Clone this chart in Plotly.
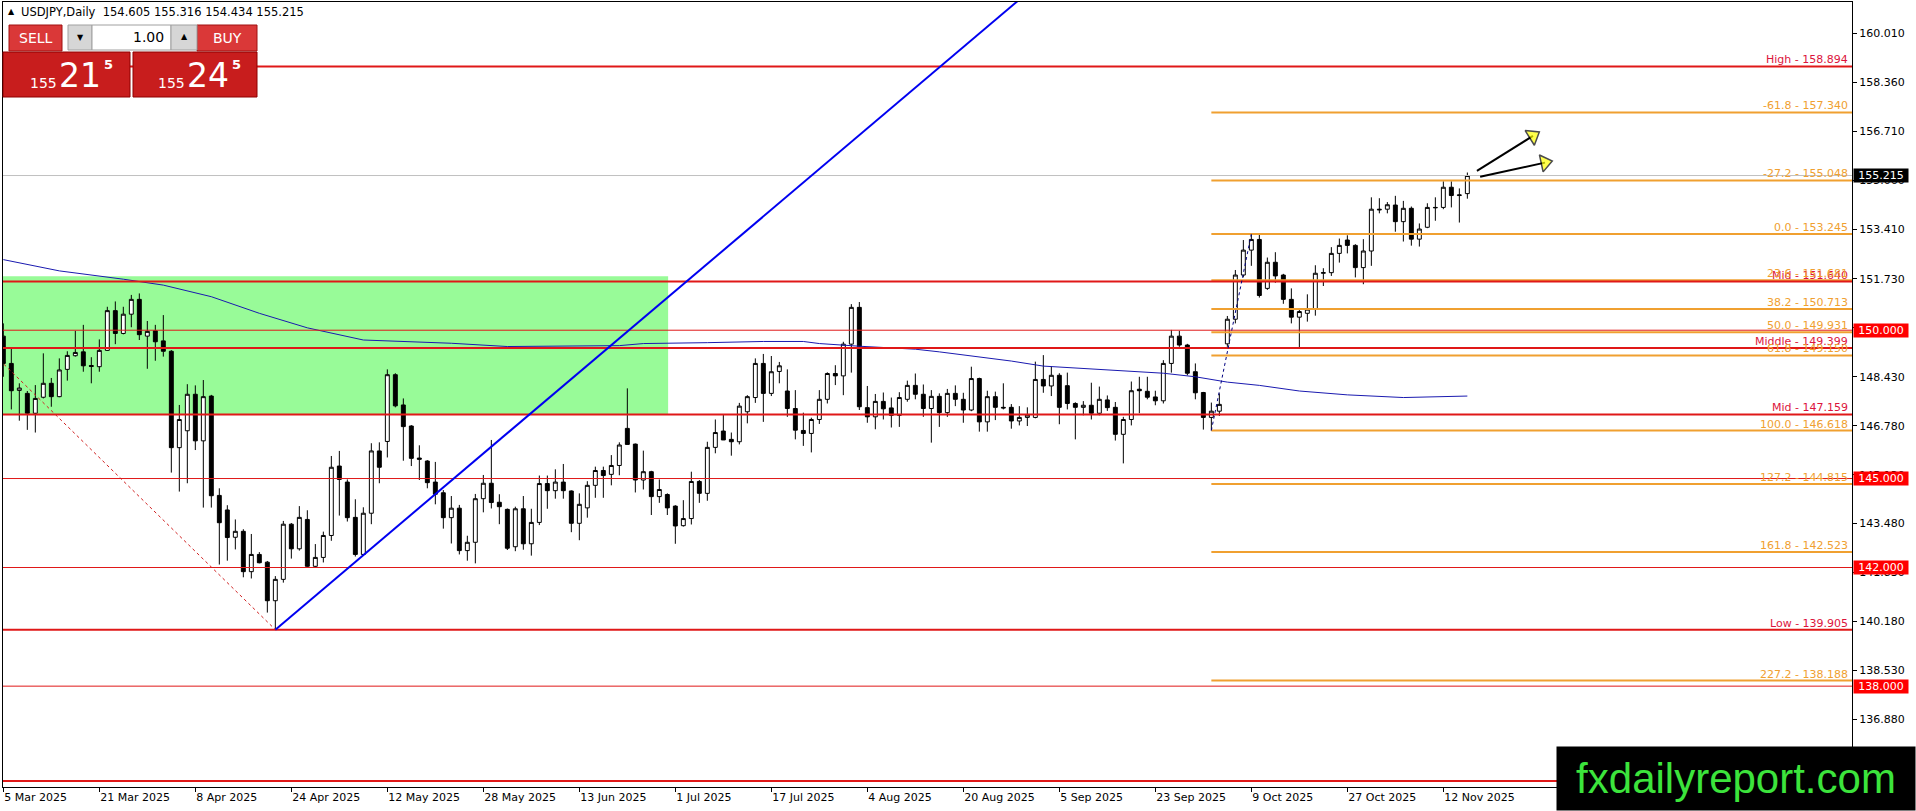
import plotly.graph_objects as go
import pandas as pd

# ---------------- data ----------------
dates = pd.bdate_range("2025-03-05", "2025-11-17")

opens = [
    149.80, 148.88, 147.97, 147.87, 147.20, 147.74, 148.21, 147.76, 148.68, 149.14,
    149.27, 148.81, 148.77, 149.32, 150.66, 149.89, 150.54, 151.04, 149.80, 149.98,
    149.64, 149.29, 146.04, 146.61, 147.84, 146.27, 147.78, 144.43, 143.94, 143.02,
    143.22, 141.86, 142.44, 142.18, 140.88, 141.60, 143.46, 142.63, 143.62, 142.04,
    142.34, 143.08, 145.42, 144.88, 143.69, 142.44, 143.83, 145.93, 146.25, 148.50,
    147.48, 146.77, 145.69, 145.59, 144.88, 144.52, 143.68, 144.00, 142.57, 142.85,
    144.32, 144.84, 144.20, 143.96, 142.70, 143.98, 142.80, 143.52, 144.83, 144.59,
    144.88, 144.58, 143.49, 144.01, 144.77, 145.27, 145.14, 145.44, 146.69, 146.16,
    144.95, 145.23, 144.39, 144.46, 144.07, 143.41, 143.65, 144.90, 144.50, 146.05,
    146.60, 146.32, 146.24, 147.25, 147.73, 148.88, 147.87, 148.61, 147.95, 147.36,
    146.62, 146.52, 146.99, 147.67, 148.54, 148.46, 149.53, 150.77, 147.39, 147.08,
    147.60, 147.38, 147.13, 147.67, 148.14, 147.84, 147.36, 147.77, 147.22, 147.87,
    147.67, 147.31, 148.37, 146.91, 147.76, 147.40, 147.40, 146.94, 147.06, 147.06,
    148.34, 148.12, 148.48, 148.13, 147.53, 147.40, 147.47, 147.20, 147.65, 147.40,
    146.49, 146.99, 148.01, 147.94, 147.75, 147.62, 148.88, 149.80, 149.50, 148.60,
    147.90, 147.06, 147.27, 149.54, 150.37, 151.86, 152.70, 153.06, 151.41, 152.29,
    151.86, 151.04, 150.44, 150.57, 150.71, 151.92, 151.94, 152.59, 153.04, 152.86,
    152.11, 152.67, 154.08, 154.08, 154.22, 153.66, 154.11, 153.07, 153.47, 154.14,
    154.14, 154.82, 154.54, 154.605,
]
highs = [
    150.23, 149.37, 148.21, 147.95, 148.15, 149.22, 148.39, 149.05, 149.29, 149.98,
    150.18, 149.09, 149.69, 150.79, 150.97, 150.79, 151.19, 151.24, 150.31, 150.18,
    150.51, 149.33, 147.48, 148.18, 148.14, 148.32, 147.82, 144.67, 144.10, 143.62,
    143.29, 143.13, 142.52, 142.22, 141.71, 143.57, 143.50, 144.07, 143.93, 142.79,
    143.21, 145.76, 145.93, 144.97, 144.30, 144.03, 146.19, 146.22, 148.68, 148.55,
    147.70, 146.80, 146.12, 145.62, 145.56, 144.61, 144.41, 144.11, 143.07, 144.48,
    145.12, 146.30, 144.47, 143.99, 144.05, 144.41, 143.98, 145.10, 145.10, 145.31,
    145.49, 144.60, 144.50, 144.91, 145.40, 145.40, 145.79, 146.22, 148.04, 146.18,
    145.94, 145.26, 144.97, 144.50, 144.10, 144.27, 145.23, 144.95, 146.24, 146.99,
    147.16, 146.55, 147.55, 147.81, 149.05, 149.20, 149.13, 148.93, 148.68, 147.98,
    147.22, 147.05, 147.98, 148.58, 148.82, 149.61, 150.88, 150.95, 148.12, 147.85,
    147.90, 147.73, 147.91, 148.30, 148.54, 148.17, 147.98, 147.87, 148.02, 148.14,
    147.89, 148.77, 148.40, 147.96, 147.93, 148.21, 147.51, 147.44, 147.40, 148.94,
    149.16, 148.79, 148.55, 148.57, 147.57, 147.61, 148.23, 148.10, 147.80, 147.58,
    147.08, 148.27, 148.43, 148.43, 147.96, 148.99, 150.01, 149.98, 149.54, 148.88,
    147.92, 147.56, 147.87, 150.48, 152.03, 153.04, 153.245, 153.22, 152.45, 152.63,
    151.90, 151.41, 150.74, 151.21, 152.19, 152.09, 152.80, 153.09, 153.20, 152.90,
    153.07, 154.48, 154.45, 154.32, 154.53, 154.36, 154.17, 153.60, 154.28, 154.48,
    155.02, 155.02, 154.78, 155.316,
]
lows = [
    148.43, 147.33, 146.95, 146.64, 146.55, 147.70, 147.42, 147.74, 148.30, 149.11,
    148.60, 148.21, 148.60, 149.30, 149.53, 149.86, 150.10, 149.67, 148.70, 148.97,
    149.11, 145.20, 144.56, 144.84, 145.96, 144.02, 144.02, 142.10, 142.23, 142.61,
    141.67, 141.63, 142.14, 140.48, 139.905, 141.49, 142.30, 142.57, 142.02, 142.00,
    142.17, 142.90, 143.75, 143.55, 142.37, 142.39, 143.46, 144.84, 145.71, 147.40,
    145.60, 145.42, 144.95, 144.67, 144.13, 143.31, 142.81, 142.44, 142.23, 142.14,
    143.86, 143.99, 143.46, 142.59, 142.55, 142.60, 142.40, 143.43, 143.98, 144.32,
    144.32, 143.19, 142.92, 143.68, 144.35, 144.35, 144.77, 145.11, 146.15, 144.53,
    144.63, 143.77, 144.18, 143.77, 142.80, 143.38, 143.45, 144.18, 144.25, 145.85,
    146.30, 145.77, 146.15, 146.86, 147.55, 146.91, 147.78, 148.21, 147.08, 146.32,
    146.10, 145.88, 146.84, 147.53, 148.15, 147.81, 148.57, 147.31, 146.88, 146.66,
    146.99, 146.72, 146.74, 147.59, 147.67, 147.08, 146.21, 146.74, 147.08, 147.44,
    146.88, 147.27, 146.58, 146.58, 146.97, 147.33, 146.68, 146.79, 146.77, 147.03,
    147.89, 147.78, 146.83, 147.33, 146.32, 147.13, 146.99, 147.13, 147.28, 146.28,
    145.51, 146.79, 147.20, 147.67, 147.47, 147.53, 148.57, 149.44, 148.48, 147.67,
    146.65, 146.618, 147.11, 149.44, 150.23, 151.78, 152.17, 151.10, 151.36, 151.60,
    150.89, 150.23, 149.42, 150.29, 150.49, 151.49, 151.83, 152.28, 152.59, 151.78,
    151.55, 152.17, 153.94, 153.94, 153.32, 152.99, 152.85, 152.82, 153.44, 153.69,
    154.08, 154.14, 153.63, 154.434,
]
closes = [
    148.88, 147.96, 148.05, 147.20, 147.70, 148.21, 147.76, 148.66, 149.15, 149.25,
    148.80, 148.78, 149.32, 150.66, 149.89, 150.54, 151.04, 149.85, 149.96, 149.61,
    149.29, 146.04, 146.99, 147.84, 146.27, 147.76, 144.42, 143.51, 143.01, 143.22,
    141.86, 142.44, 142.16, 140.88, 141.60, 143.46, 142.63, 143.69, 142.04, 142.34,
    143.08, 145.38, 144.97, 143.68, 142.44, 143.83, 145.93, 145.38, 148.50, 147.45,
    146.75, 145.68, 145.65, 144.86, 144.47, 143.68, 144.00, 142.57, 142.85, 144.32,
    144.84, 144.19, 144.05, 142.65, 143.98, 142.80, 143.52, 144.83, 144.59, 144.88,
    144.59, 143.49, 144.13, 144.77, 145.27, 145.10, 145.44, 146.13, 146.15, 144.95,
    145.23, 144.39, 144.63, 144.01, 143.40, 143.65, 144.90, 144.50, 146.05, 146.55,
    146.30, 146.24, 147.44, 147.76, 148.88, 147.87, 148.60, 148.80, 147.36, 146.63,
    146.52, 146.99, 147.67, 148.54, 148.46, 149.53, 150.77, 147.42, 147.08, 147.60,
    147.35, 147.13, 147.73, 148.14, 147.84, 147.36, 147.77, 147.22, 147.87, 147.67,
    147.31, 148.37, 146.91, 147.76, 147.40, 147.38, 146.94, 147.06, 147.14, 148.34,
    148.12, 148.48, 147.40, 147.53, 147.40, 147.47, 147.20, 147.67, 147.39, 146.49,
    146.99, 147.96, 147.96, 147.74, 147.62, 148.88, 149.80, 149.50, 148.55, 147.89,
    147.06, 147.27, 147.50, 150.37, 151.86, 152.70, 153.06, 151.17, 152.29, 151.83,
    151.04, 150.44, 150.63, 150.71, 151.92, 151.94, 152.59, 152.86, 152.86, 152.11,
    152.67, 154.08, 154.06, 154.23, 153.66, 154.11, 153.07, 153.41, 154.14, 154.13,
    154.82, 154.54, 154.56, 155.215,
]

# moving average (sampled along the drawn curve)
ma_bars = [0, 7, 15, 20, 26, 32, 38, 45, 56, 63, 77, 80, 88, 95, 100, 102, 107, 110,
           114, 117, 122, 126, 130, 140, 145, 149, 153, 157, 162, 168, 175, 183]
ma_vals = [152.38, 152.00, 151.72, 151.52, 151.13, 150.57, 150.08, 149.67, 149.56, 149.45,
           149.48, 149.55, 149.58, 149.62, 149.62, 149.55, 149.46, 149.41, 149.36, 149.27,
           149.10, 148.96, 148.79, 148.64, 148.55, 148.43, 148.25, 148.14, 147.95, 147.82,
           147.73, 147.78]

tick_dates = ["2025-03-05", "2025-03-21", "2025-04-08", "2025-04-24", "2025-05-12",
              "2025-05-28", "2025-06-13", "2025-07-01", "2025-07-17", "2025-08-04",
              "2025-08-20", "2025-09-05", "2025-09-23", "2025-10-09", "2025-10-27",
              "2025-11-12"]
tick_labels = ["5 Mar 2025", "21 Mar 2025", "8 Apr 2025", "24 Apr 2025", "12 May 2025",
               "28 May 2025", "13 Jun 2025", "1 Jul 2025", "17 Jul 2025", "4 Aug 2025",
               "20 Aug 2025", "5 Sep 2025", "23 Sep 2025", "9 Oct 2025", "27 Oct 2025",
               "12 Nov 2025"]
price_ticks = [160.010, 158.360, 156.710, 155.060, 153.410, 151.730, 150.080, 148.430,
               146.780, 145.130, 143.480, 141.830, 140.180, 138.530, 136.880, 135.230]

# drawing objects
hilo_names = ["High", "Mid", "Middle", "Mid", "Low"]
hilo_prices = [158.894, 151.640, 149.399, 147.159, 139.905]
bottom_line = 134.80
fib_levels = [-61.8, -27.2, 0.0, 23.6, 38.2, 50.0, 61.8, 100.0, 127.2, 161.8, 227.2]
fib_prices = [157.340, 155.048, 153.245, 151.681, 150.713, 149.931, 149.150, 146.618,
              144.815, 142.523, 138.188]
fib_start = "2025-10-02"
hlines = [150.000, 145.000, 142.000, 138.000]
last_price = 155.215
zone_bars = [-2, 83.1]
zone_prices = [147.159, 151.82]
trend_bars = [34, 130]
trend_prices = [139.905, 161.83]
red_fib_bars = [-38, 34]
red_fib_prices = [158.894, 139.905]
blue_fib_bars = [151, 156]
blue_fib_prices = [146.618, 153.245]
arrow_bars = [[184.2, 191.2], [184.6, 192.7]]
arrow_prices = [[155.37, 156.55], [155.175, 155.65]]

header = "USDJPY,Daily  154.605 155.316 154.434 155.215"

# ---------------- figure ----------------
W, H = 1916, 811
PL, PT, PR, PB = 3, 2, 1852, 787
PW, PH = PR - PL, PB - PT
X_LO, X_HI = -0.04, 231.08
Y_LO, Y_HI = 134.60, 161.065


def px(x):
    return (x - PL) / PW


def py(y):
    return 1 - (y - PT) / PH


bars = list(range(len(opens)))
date_pos = {d.strftime("%Y-%m-%d"): i for i, d in enumerate(dates)}

RED = "#E01818"
ORANGE = "#F0A030"
LBL_RED = "#DC143C"
FONT = "DejaVu Sans"

fig = go.Figure()

fig.add_trace(go.Candlestick(
    x=bars, open=opens, high=highs, low=lows, close=closes,
    increasing=dict(line=dict(color="black", width=1), fillcolor="white"),
    decreasing=dict(line=dict(color="black", width=1), fillcolor="black"),
    whiskerwidth=0, showlegend=False, hoverinfo="skip",
))

# moving average
fig.add_trace(go.Scatter(x=ma_bars, y=ma_vals, mode="lines",
                         line=dict(color="#1A1AB0", width=1), hoverinfo="skip", showlegend=False))


def hline(y, color, width, x0=X_LO - 5, dash="solid"):
    fig.add_trace(go.Scatter(x=[x0, X_HI + 5], y=[y, y], mode="lines",
                             line=dict(color=color, width=width, dash=dash),
                             hoverinfo="skip", showlegend=False))


hline(last_price, "#C0C0C0", 1)
for p in hlines:
    hline(p, RED, 1)
fib_x0 = date_pos[fib_start]
for p in fib_prices:
    hline(p, ORANGE, 2, x0=fib_x0)
for p in hilo_prices:
    hline(p, RED, 2)
hline(bottom_line, RED, 2)

# trend line and fibo anchor lines
fig.add_trace(go.Scatter(x=trend_bars, y=trend_prices, mode="lines",
                         line=dict(color="#0000F0", width=2), hoverinfo="skip", showlegend=False))
fig.add_trace(go.Scatter(x=red_fib_bars, y=red_fib_prices, mode="lines",
                         line=dict(color="#D02020", width=1, dash="dot"), hoverinfo="skip", showlegend=False))
fig.add_trace(go.Scatter(x=blue_fib_bars, y=blue_fib_prices, mode="lines",
                         line=dict(color="#000080", width=1, dash="dot"), hoverinfo="skip", showlegend=False))

# arrows
for ax_, ay_ in zip(arrow_bars, arrow_prices):
    fig.add_trace(go.Scatter(
        x=ax_, y=ay_, mode="lines+markers",
        line=dict(color="black", width=2),
        marker=dict(symbol="triangle-up", size=[0, 15], angleref="previous",
                    color="#FFFF00", line=dict(color="black", width=1.5)),
        hoverinfo="skip", showlegend=False))

shapes = [
    dict(type="rect", xref="x", yref="y", x0=zone_bars[0], x1=zone_bars[1],
         y0=zone_prices[0], y1=zone_prices[1], fillcolor="#98FB98", line=dict(width=0), layer="below"),
]

# one-click trading panel
panel = [
    (3, 52, 130, 97, "#C81D1D", "#8E0000"),
    (133, 52, 257, 97, "#C81D1D", "#8E0000"),
    (9, 25, 62, 51, "#DA3838", "#A01010"),
    (197, 25, 257, 51, "#DA3838", "#A01010"),
    (68, 25, 92, 50, "#D6D6D6", "#A0A0A0"),
    (92, 25, 171, 50, "#FFFFFF", "#A0A0A0"),
    (171, 25, 197, 50, "#D6D6D6", "#A0A0A0"),
]
for x0, y0, x1, y1, fc, lc in panel:
    shapes.append(dict(type="rect", xref="paper", yref="paper", x0=px(x0), x1=px(x1),
                       y0=py(y1), y1=py(y0), fillcolor=fc, line=dict(color=lc, width=1),
                       layer="above"))

annotations = []


def note(x, y, text, size, color, xa="center", ya="middle", family=FONT, **kw):
    annotations.append(dict(xref="paper", yref="paper", x=px(x), y=py(y), text=text,
                            showarrow=False, xanchor=xa, yanchor=ya,
                            font=dict(family=family, size=size, color=color), **kw))


note(11, 12, "▲", 8, "black")
note(19, 12, header, 11.5, "black", xa="left")
note(36, 38, "SELL", 14, "white")
note(227, 38, "BUY", 14, "white")
note(80, 38, "▼", 8, "black")
note(184, 37, "▲", 8, "black")
note(166, 37, "1.00", 14, "black", xa="right")
note(28, 83, "155", 14, "white", xa="left")
note(80, 76, "21", 33, "white")
note(108, 65, "<b>5</b>", 13, "white")
note(156, 83, "155", 14, "white", xa="left")
note(208, 76, "24", 33, "white")
note(236, 65, "<b>5</b>", 13, "white")

# level labels at the right edge
for name, p in zip(hilo_names, hilo_prices):
    annotations.append(dict(xref="paper", yref="y", x=1, y=p, xanchor="right", yanchor="bottom",
                            xshift=-2, yshift=-2, text=f"{name} - {p:.3f}", showarrow=False,
                            font=dict(family=FONT, size=11, color=LBL_RED)))
for lv, p in zip(fib_levels, fib_prices):
    annotations.append(dict(xref="paper", yref="y", x=1, y=p, xanchor="right", yanchor="bottom",
                            xshift=-2, yshift=-2, text=f"{lv:.1f} - {p:.3f}", showarrow=False,
                            font=dict(family=FONT, size=11, color=ORANGE)))

# price boxes on the axis
for p in hlines:
    annotations.append(dict(xref="paper", yref="y", x=1, y=p, xanchor="left", yanchor="middle",
                            xshift=1, text=f"{p:.3f}", showarrow=False, bgcolor="#FF0000",
                            width=54, height=13, borderpad=0,
                            font=dict(family=FONT, size=11, color="white")))
annotations.append(dict(xref="paper", yref="y", x=1, y=last_price, xanchor="left", yanchor="middle",
                        xshift=1, text=f"{last_price:.3f}", showarrow=False, bgcolor="black",
                        width=54, height=13, borderpad=0,
                        font=dict(family=FONT, size=11, color="white")))

# watermark
annotations.append(dict(xref="paper", yref="paper", x=px(W), y=py(H), xanchor="right", yanchor="bottom",
                        text="fxdailyreport.com", showarrow=False, bgcolor="black",
                        width=356, height=61, borderpad=1,
                        font=dict(family="Liberation Sans", size=42, color="#3CE43C")))

fig.update_layout(
    width=W, height=H,
    margin=dict(l=PL, r=W - PR, t=PT, b=H - PB, autoexpand=False),
    paper_bgcolor="white", plot_bgcolor="white",
    showlegend=False,
    shapes=shapes, annotations=annotations,
    font=dict(family=FONT, size=11, color="black"),
    xaxis=dict(range=[X_LO, X_HI], rangeslider=dict(visible=False),
               tickvals=[date_pos[d] for d in tick_dates], ticktext=tick_labels,
               ticks="outside", ticklen=4, tickcolor="black", ticklabelposition="outside right",
               showline=True, linecolor="black", linewidth=1, mirror=True,
               showgrid=False, zeroline=False, fixedrange=True,
               tickfont=dict(family=FONT, size=11, color="black")),
    yaxis=dict(range=[Y_LO, Y_HI], side="right", tickvals=price_ticks, tickformat=".3f",
               ticks="outside", ticklen=4, tickcolor="black",
               showline=True, linecolor="black", linewidth=1, mirror=True,
               showgrid=False, zeroline=False, fixedrange=True,
               tickfont=dict(family=FONT, size=11, color="black")),
)

fig.write_html("out.html", config={"displayModeBar": False},
               post_script="document.body.style.margin='0';document.body.style.overflow='hidden';")
